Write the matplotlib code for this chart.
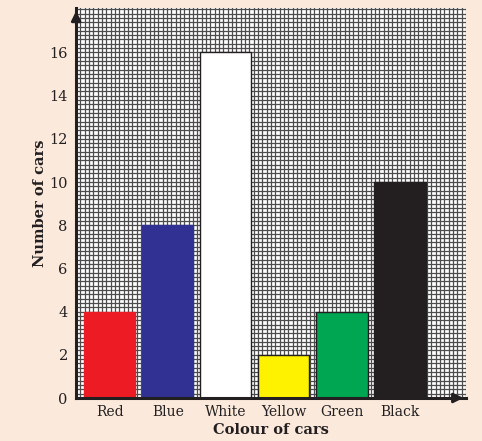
import numpy as np
import matplotlib.pyplot as plt
from matplotlib.ticker import MultipleLocator

colours = ["Red", "Blue", "White", "Yellow", "Green", "Black"]
cars = [4, 8, 16, 2, 4, 10]
bar_colors = ["#ed1c24", "#303192", "#ffffff", "#fff200", "#00a651", "#231f20"]
edge_colors = ["#ed1c24", "#303192", "#231f20", "#231f20", "#231f20", "#231f20"]

bg = "#fbeadb"
plt.rcParams['font.family'] = ['DejaVu Serif']

fig = plt.figure(figsize=(4.82, 4.41), dpi=100, facecolor=bg)
ax = fig.add_axes([0.158, 0.0975, 0.809, 0.884])

x = 7.75 + 13.4 * np.arange(len(colours))
ax.bar(x, cars, width=11.8, color=bar_colors, edgecolor=edge_colors,
       linewidth=1.0, zorder=3)

ax.set_xlim(0, 90)
ax.set_ylim(0, 18.05)
ax.xaxis.set_minor_locator(MultipleLocator(1))
ax.yaxis.set_minor_locator(MultipleLocator(0.2))
ax.grid(which='minor', color='#4d4d4d', linewidth=0.9, zorder=0)
ax.grid(which='major', axis='x', visible=False)
ax.grid(which='major', axis='y', color='#4d4d4d', linewidth=0.9, zorder=0)
ax.set_axisbelow(True)

ax.set_xticks(x)
ax.set_xticklabels(colours)
ax.set_yticks(np.arange(0, 17, 2))
ax.tick_params(which='both', length=0, labelsize=10.5, colors='#231f20')
ax.tick_params(axis='x', labelsize=10, pad=5)
ax.tick_params(axis='y', pad=6)

for s in ['top', 'right']:
    ax.spines[s].set_visible(False)
for s in ['left', 'bottom']:
    ax.spines[s].set_linewidth(2.2)
    ax.spines[s].set_color('#231f20')
    ax.spines[s].set_zorder(4)

# arrow heads on axes
ax.annotate('', xy=(0, 1.0), xytext=(0, 0.96), xycoords='axes fraction',
            arrowprops=dict(arrowstyle='-|>', color='#231f20', lw=2,
                            mutation_scale=14), annotation_clip=False, zorder=5)
ax.annotate('', xy=(1.0, 0), xytext=(0.96, 0), xycoords='axes fraction',
            arrowprops=dict(arrowstyle='-|>', color='#231f20', lw=2,
                            mutation_scale=14), annotation_clip=False, zorder=5)

ax.set_ylabel("Number of cars", fontsize=10.5, fontweight='bold',
              color='#231f20', labelpad=2)
ax.set_xlabel("Colour of cars", fontsize=10.5, fontweight='bold',
              color='#231f20', labelpad=3)

fig.savefig("out.png", dpi=100, facecolor=bg)
